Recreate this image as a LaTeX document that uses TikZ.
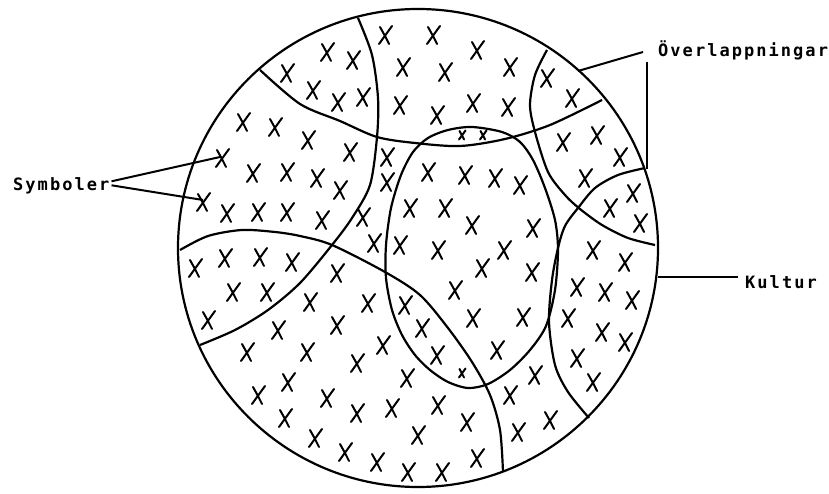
\documentclass[tikz,border=0pt]{standalone}
\usepackage{fontspec}
\newfontfamily\etikettfont{DejaVu Sans Mono}[LetterSpace=12]

\tikzset{
  grans/.style={line width=2.2pt},
  ledare/.style={line width=2pt},
  etikett/.style={font=\etikettfont\bfseries\fontsize{17}{17}\selectfont, inner sep=0pt, anchor=base west},
  kryss/.pic={
    \draw[line width=2pt, line cap=round] (-6,9) -- (7,-9);
    \draw[line width=2pt, line cap=round] (-5,-8) -- (0,1) -- (4,9);
  },
}

\begin{document}
\begin{tikzpicture}[x=1pt,y=-1pt]
\useasboundingbox (0,0) rectangle (829,494);

% Cirkel
\draw[grans] (418,248) ellipse [x radius=240, y radius=239];

% Gränser
\draw[grans] plot[smooth] coordinates {(260,70) (300,104) (340,121) (377,137) (415,143) (460,146) (505,139) (550,125) (602,100)};
\draw[grans] plot[smooth] coordinates {(358,18) (372,55) (378,98) (377,137) (370,185) (352,218) (332,245) (300,283) (268,310) (235,330) (200,345)};
\draw[grans] plot[smooth] coordinates {(180,250) (208,236) (242,230) (275,232) (300,236) (332,245) (385,272) (420,295) (448,328) (472,362) (490,395) (500,430) (503,472)};
\draw[grans] plot[smooth] coordinates {(547,50) (535,75) (530,105) (535,132) (548,172) (565,195) (580,209) (602,225) (628,238) (655,245)};
\draw[grans] plot[smooth] coordinates {(645,168) (618,175) (595,188) (578,208) (565,226) (558,248) (552,280) (549,322) (555,365) (568,392) (589,418)};

% Ovalen
\draw[grans] plot[smooth cycle] coordinates {(472,127) (502,132) (520,142) (533,160) (545,188) (555,220) (558,250) (555,290) (546,326) (530,350) (510,370) (488,384) (468,388) (448,382) (430,370) (415,355) (402,335) (392,310) (386,278) (386,245) (391,208) (401,175) (413,152) (428,138) (448,130)};

% Kryss
\foreach \x/\y in {287/73, 327/52, 353/60, 313/90, 338/102, 363/97,
  385/35, 433/35, 477/50, 403/67, 445/72, 510/67, 400/105, 437/115, 473/103, 508/107,
  547/78, 572/98, 563/142, 597/135, 620/157, 585/178, 610/208, 633/193, 640/223,
  243/122, 275/127, 222/158, 253/173, 287/172, 203/202, 227/213, 258/212, 287/212,
  308/140, 350/152, 317/178, 340/190, 322/220,
  387/157, 387/182, 363/217, 374/243,
  428/172, 465/175, 495/178, 520/185, 410/208, 445/208, 472/225, 533/228,
  400/245, 438/250, 504/250, 482/268, 532/272, 455/290, 473/318, 523/317, 497/350,
  405/305, 422/328, 437/355,
  593/250, 625/262, 577/287, 605/292, 632/300, 568/318, 602/332, 625/342, 577/358, 593/382,
  535/375, 510/395, 518/432, 550/420,
  195/268, 225/258, 260/257, 292/262, 233/292, 267/292, 208/320,
  278/330, 247/352, 258/395, 288/382, 285/418, 337/273, 310/302, 368/303, 337/325,
  383/345, 307/352, 357/363, 407/378, 327/398, 357/413, 392/408, 315/438, 345/452,
  377/462, 408/472, 438/405, 467/422, 418/435, 477/458, 442/472}
  \pic at (\x,\y) {kryss};
\foreach \x/\y in {462/135, 483/135, 462/373}
  \pic[scale=0.5] at (\x,\y) {kryss};

% Etiketter
\node[etikett] (symboler) at (13,191) {Symboler};
\node[etikett] (overlapp) at (658,57) {Överlappningar};
\node[etikett] (kultur) at (745,288) {Kultur};

\coordinate (sym-a) at (220,157);
\coordinate (sym-b) at (203,200);
\coordinate (ov-a) at (578,71);
\coordinate (ov-b) at (647,169);
\coordinate (kul-a) at (658,277);

\draw[ledare] (symboler.east) ++(2,-5) -- (sym-a);
\draw[ledare] (symboler.east) ++(2,-1) -- (sym-b);
\draw[ledare] ([shift={(-15,-5)}]overlapp.base west) -- (ov-a);
\draw[ledare, line width=2.4pt] ([shift={(-11,5)}]overlapp.base west) -- (ov-b);
\draw[ledare] ([shift={(-7,-11)}]kultur.base west) -- (kul-a);

\end{tikzpicture}
\end{document}
